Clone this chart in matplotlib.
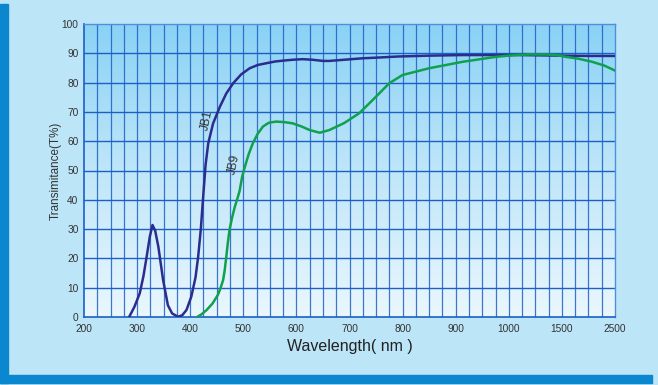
import numpy as np
import matplotlib.pyplot as plt
from matplotlib.patches import Rectangle
from matplotlib.colors import LinearSegmentedColormap

# Data
jb1_nm = [285, 295, 305, 312, 318, 324, 329, 334, 340, 349, 358, 366, 377, 385, 393, 402, 410,
          415, 420, 424, 429, 434, 443, 456, 468, 481, 496, 512, 527, 543, 560, 575, 593, 612,
          630, 650, 662, 690, 725, 760, 790, 850, 913, 1000, 1100, 1300, 1500, 2000, 2500]
jb1_t = [0, 3.5, 8.1, 14, 20.6, 27.5, 31.4, 29.5, 24, 12.6, 4, 1.2, 0.1, 0.6, 2.4, 6.9, 13.5,
         20.6, 30, 40, 52, 59.3, 66, 71.8, 76.3, 79.8, 82.8, 84.9, 86, 86.6, 87.2, 87.5, 87.8, 88,
         87.8, 87.4, 87.4, 87.8, 88.3, 88.6, 88.9, 89.2, 89.4, 89.4, 89.4, 89.3, 89.2, 89.1, 89.1]

jb9_nm = [413, 422, 431, 442, 452, 457, 462, 465, 468, 471, 474, 479, 484, 489, 493, 498, 503,
          510, 518, 527, 537, 548, 562, 578, 593, 610, 625, 644, 662, 690, 718, 745, 775, 800,
          850, 913, 976, 1063, 1200, 1350, 1450, 1565, 1800, 2070, 2300, 2500]
jb9_t = [0, 1, 2.4, 4.6, 7.5, 9.8, 12.6, 16, 20.6, 25.5, 29.7, 34, 37.6, 40.5, 43, 48, 51.3,
         55.5, 59.3, 62.5, 65, 66.3, 66.7, 66.5, 66.1, 65, 63.8, 62.9, 63.8, 66.2, 69.5, 74.3,
         79.8, 82.6, 84.9, 87.1, 88.8, 89.4, 89.6, 89.6, 89.4, 88.8, 88.2, 87.1, 85.8, 84.1]

x_ticks = [200, 300, 400, 500, 600, 700, 800, 900, 1000, 1500, 2500]
y_ticks = [0, 10, 20, 30, 40, 50, 60, 70, 80, 90, 100]

# piecewise wavelength axis: 200-1000 linear, then 1000-1500, 1500-2500 one step each
knots_nm = [200, 1000, 1500, 2500]
knots_pos = [0, 8, 9, 10]


def fwd(x):
    return np.interp(x, knots_nm, knots_pos)


def inv(p):
    return np.interp(p, knots_pos, knots_nm)


plt.rcParams['font.family'] = ['Liberation Sans', 'DejaVu Sans']

fig = plt.figure(figsize=(6.58, 3.85), dpi=100)
fig.patch.set_facecolor('#bce5f8')

# dark blue strips on the left and bottom edges
fig.patches.append(Rectangle((0, 2 / 385), 7.5 / 658, 379 / 385, transform=fig.transFigure,
                             color='#0a87cf', zorder=0))
fig.patches.append(Rectangle((0, 2 / 385), 652 / 658, 8.5 / 385, transform=fig.transFigure,
                             color='#0a87cf', zorder=0))

ax = fig.add_axes([84 / 658, 68 / 385, 531 / 658, 293 / 385])
ax.set_xscale('function', functions=(fwd, inv))
ax.set_xlim(200, 2500)
ax.set_ylim(0, 100)

# gradient background of the plot area
grad = np.linspace(0, 1, 256).reshape(-1, 1)
cmap = LinearSegmentedColormap.from_list('bg', ['#eaf7fd', '#bfe6f9', '#8ad2f5'])
ax.imshow(grad, cmap=cmap, origin='lower', aspect='auto', extent=[0, 1, 0, 1],
          transform=ax.transAxes, zorder=0)

grid_c = '#1c5fc6'
for p in np.arange(0.25, 10, 0.25):
    ax.axvline(inv(p), color=grid_c, lw=0.9, alpha=0.85, zorder=1)
for v in y_ticks[1:-1]:
    ax.axhline(v, color=grid_c, lw=1.0, zorder=1)

ax.plot(jb1_nm, jb1_t, color='#2a2d8e', lw=1.8, zorder=3)
ax.plot(jb9_nm, jb9_t, color='#0fa14c', lw=1.8, zorder=3)

ax.text(431, 67, 'JB1', rotation=78, fontsize=8.5, color='#333333', ha='center', va='center', zorder=4)
ax.text(482, 52, 'JB9', rotation=78, fontsize=8.5, color='#333333', ha='center', va='center', zorder=4)

ax.set_xticks(x_ticks)
ax.set_xticklabels([str(v) for v in x_ticks])
ax.set_yticks(y_ticks)
ax.tick_params(length=0, labelsize=7.3, colors='#333333', pad=5)
ax.tick_params(axis='y', pad=4)

for side in ['left', 'bottom']:
    ax.spines[side].set_color(grid_c)
    ax.spines[side].set_linewidth(1.2)
for side in ['top', 'right']:
    ax.spines[side].set_color('#4f8fd8')
    ax.spines[side].set_linewidth(1.0)

ax.set_xlabel('Wavelength( nm )', fontsize=11.5, color='#222222', labelpad=4)
ax.set_ylabel('Transimitance(T%)', fontsize=8.4, color='#333333', labelpad=0)

fig.savefig('out.png', dpi=100, facecolor=fig.get_facecolor())
